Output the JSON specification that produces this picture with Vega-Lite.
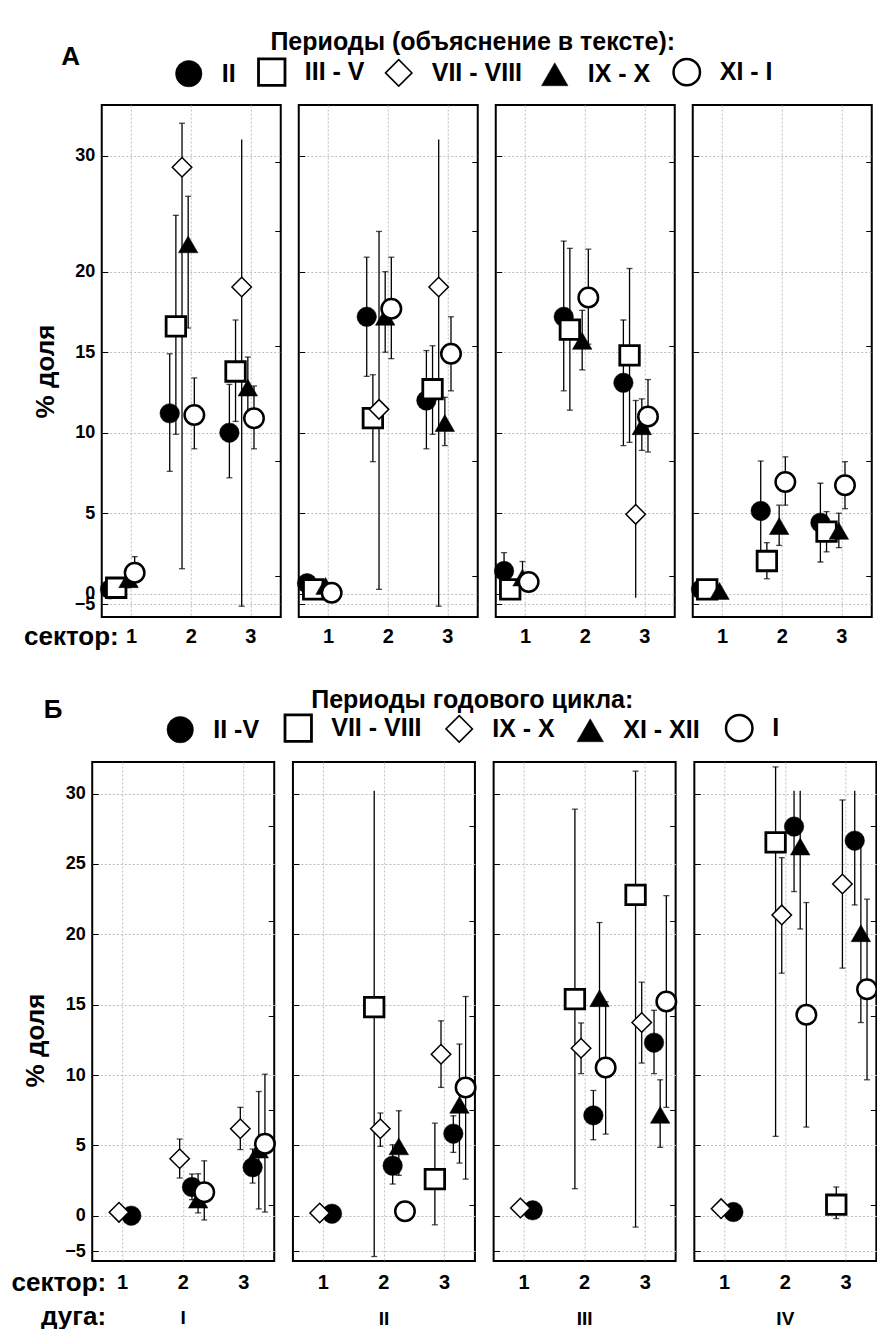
{
"$schema": "https://vega.github.io/schema/vega-lite/v6.json",
"background": "white",
"padding": {"left": 9, "top": 30, "right": 0, "bottom": 0},
"config": {
  "view": {"stroke": "black", "strokeWidth": 2},
  "font": "Liberation Sans",
  "axis": {"labelFont": "Liberation Sans", "labelFontWeight": "bold", "labelColor": "black", "titleFont": "Liberation Sans", "titleColor": "black", "titleFontWeight": "bold", "gridColor": "#bdbdbd", "gridDash": [2, 2], "gridWidth": 1, "domain": false, "tickColor": "black", "labelOverlap": false, "labelFlush": false, "labelBound": false},
  "legend": {"titleFont": "Liberation Sans", "titleFontSize": 25, "titleFontWeight": "bold", "titleColor": "black", "labelFont": "Liberation Sans", "labelFontSize": 25, "labelFontWeight": "bold", "labelColor": "black", "titleLimit": 2000, "labelLimit": 1000, "padding": 0, "symbolSize": 700},
  "title": {"font": "Liberation Sans", "fontWeight": "bold", "color": "black"}
},
"datasets": {
  "a": [
    {"arc":"I","sector":1,"period":"II","value":0.27},
    {"arc":"I","sector":1,"period":"III - V","value":0.37},
    {"arc":"I","sector":1,"period":"IX - X","value":0.9,"lo":0.37,"hi":1.5},
    {"arc":"I","sector":1,"period":"XI - I","value":1.3,"lo":0.48,"hi":2.3},
    {"arc":"I","sector":2,"period":"II","value":11.2,"lo":7.6,"hi":14.9},
    {"arc":"I","sector":2,"period":"III - V","value":16.6,"lo":9.9,"hi":23.5},
    {"arc":"I","sector":2,"period":"VII - VIII","value":29.3,"lo":1.55,"hi":31.93},
    {"arc":"I","sector":2,"period":"IX - X","value":21.7,"lo":16.5,"hi":27.5},
    {"arc":"I","sector":2,"period":"XI - I","value":11.1,"lo":9.0,"hi":13.4},
    {"arc":"I","sector":3,"period":"II","value":10.0,"lo":7.2,"hi":13.0},
    {"arc":"I","sector":3,"period":"III - V","value":13.8,"lo":10.7,"hi":17.0},
    {"arc":"I","sector":3,"period":"VII - VIII","value":19.05,"lo":-5.15,"hi":31.0},
    {"arc":"I","sector":3,"period":"IX - X","value":12.8,"lo":10.9,"hi":14.7},
    {"arc":"I","sector":3,"period":"XI - I","value":10.9,"lo":9.0,"hi":12.9},
    {"arc":"II","sector":1,"period":"II","value":0.65},
    {"arc":"II","sector":1,"period":"III - V","value":0.27},
    {"arc":"II","sector":1,"period":"IX - X","value":0.48},
    {"arc":"II","sector":1,"period":"XI - I","value":0.06},
    {"arc":"II","sector":2,"period":"II","value":17.2,"lo":13.5,"hi":20.9},
    {"arc":"II","sector":2,"period":"III - V","value":10.9,"lo":8.2,"hi":13.6},
    {"arc":"II","sector":2,"period":"VII - VIII","value":11.45,"lo":0.27,"hi":22.5},
    {"arc":"II","sector":2,"period":"IX - X","value":17.2,"lo":15.0,"hi":20.0},
    {"arc":"II","sector":2,"period":"XI - I","value":17.7,"lo":14.6,"hi":20.9},
    {"arc":"II","sector":3,"period":"II","value":12.0,"lo":9.0,"hi":15.1},
    {"arc":"II","sector":3,"period":"III - V","value":12.7,"lo":9.9,"hi":15.4},
    {"arc":"II","sector":3,"period":"VII - VIII","value":19.05,"lo":-5.15,"hi":31.0},
    {"arc":"II","sector":3,"period":"IX - X","value":10.6,"lo":9.2,"hi":12.2},
    {"arc":"II","sector":3,"period":"XI - I","value":14.9,"lo":12.6,"hi":17.2},
    {"arc":"III","sector":1,"period":"II","value":1.41,"lo":0.3,"hi":2.55},
    {"arc":"III","sector":1,"period":"III - V","value":0.27},
    {"arc":"III","sector":1,"period":"IX - X","value":1.0,"lo":0.37,"hi":2.0},
    {"arc":"III","sector":1,"period":"XI - I","value":0.73},
    {"arc":"III","sector":2,"period":"II","value":17.2,"lo":12.6,"hi":21.9},
    {"arc":"III","sector":2,"period":"III - V","value":16.4,"lo":11.4,"hi":21.45},
    {"arc":"III","sector":2,"period":"IX - X","value":15.7,"lo":13.9,"hi":17.6},
    {"arc":"III","sector":2,"period":"XI - I","value":18.4,"lo":15.5,"hi":21.4},
    {"arc":"III","sector":3,"period":"II","value":13.1,"lo":9.2,"hi":17.0},
    {"arc":"III","sector":3,"period":"III - V","value":14.8,"lo":9.4,"hi":20.2},
    {"arc":"III","sector":3,"period":"VII - VIII","value":4.93,"lo":-1.9,"hi":12.0},
    {"arc":"III","sector":3,"period":"IX - X","value":10.4,"lo":8.9,"hi":12.1},
    {"arc":"III","sector":3,"period":"XI - I","value":11.0,"lo":8.8,"hi":13.3},
    {"arc":"IV","sector":1,"period":"II","value":0.27},
    {"arc":"IV","sector":1,"period":"III - V","value":0.27},
    {"arc":"IV","sector":1,"period":"IX - X","value":0.17},
    {"arc":"IV","sector":2,"period":"II","value":5.14,"lo":2.0,"hi":8.24},
    {"arc":"IV","sector":2,"period":"III - V","value":2.03,"lo":0.93,"hi":3.17},
    {"arc":"IV","sector":2,"period":"IX - X","value":4.2,"lo":3.0,"hi":5.5},
    {"arc":"IV","sector":2,"period":"XI - I","value":6.94,"lo":5.5,"hi":8.5},
    {"arc":"IV","sector":3,"period":"II","value":4.41,"lo":1.97,"hi":6.86},
    {"arc":"IV","sector":3,"period":"III - V","value":3.85,"lo":2.6,"hi":5.1},
    {"arc":"IV","sector":3,"period":"IX - X","value":3.9,"lo":2.86,"hi":5.0},
    {"arc":"IV","sector":3,"period":"XI - I","value":6.73,"lo":5.28,"hi":8.2}
  ],
  "b": [
    {"arc":"I","sector":1,"period":"II -V","value":0.0},
    {"arc":"I","sector":1,"period":"IX - X","value":0.24},
    {"arc":"I","sector":2,"period":"II -V","value":2.04,"lo":1.14,"hi":2.96},
    {"arc":"I","sector":2,"period":"IX - X","value":4.05,"lo":2.68,"hi":5.45},
    {"arc":"I","sector":2,"period":"XI - XII","value":1.14,"lo":0.2,"hi":2.98},
    {"arc":"I","sector":2,"period":"I","value":1.66,"lo":-0.6,"hi":3.9},
    {"arc":"I","sector":3,"period":"II -V","value":3.44,"lo":2.32,"hi":4.74},
    {"arc":"I","sector":3,"period":"IX - X","value":6.18,"lo":4.7,"hi":7.7},
    {"arc":"I","sector":3,"period":"XI - XII","value":4.7,"lo":0.48,"hi":8.83},
    {"arc":"I","sector":3,"period":"I","value":5.11,"lo":0.26,"hi":10.06},
    {"arc":"II","sector":1,"period":"II -V","value":0.14},
    {"arc":"II","sector":1,"period":"IX - X","value":0.19},
    {"arc":"II","sector":2,"period":"II -V","value":3.55,"lo":2.25,"hi":5.04},
    {"arc":"II","sector":2,"period":"VII - VIII","value":14.82,"lo":-5.7,"hi":30.2},
    {"arc":"II","sector":2,"period":"IX - X","value":6.18,"lo":4.93,"hi":7.3},
    {"arc":"II","sector":2,"period":"XI - XII","value":4.93,"lo":2.87,"hi":7.46},
    {"arc":"II","sector":2,"period":"I","value":0.31},
    {"arc":"II","sector":3,"period":"II -V","value":5.83,"lo":4.5,"hi":7.1},
    {"arc":"II","sector":3,"period":"VII - VIII","value":2.6,"lo":-1.28,"hi":6.58},
    {"arc":"II","sector":3,"period":"IX - X","value":11.48,"lo":9.12,"hi":13.85},
    {"arc":"II","sector":3,"period":"XI - XII","value":7.88,"lo":3.74,"hi":12.2},
    {"arc":"II","sector":3,"period":"I","value":9.12,"lo":2.6,"hi":15.58},
    {"arc":"III","sector":1,"period":"II -V","value":0.38},
    {"arc":"III","sector":1,"period":"IX - X","value":0.55},
    {"arc":"III","sector":2,"period":"II -V","value":7.13,"lo":5.4,"hi":8.9},
    {"arc":"III","sector":2,"period":"VII - VIII","value":15.4,"lo":1.92,"hi":28.9},
    {"arc":"III","sector":2,"period":"IX - X","value":11.9,"lo":10.1,"hi":13.7},
    {"arc":"III","sector":2,"period":"XI - XII","value":15.46,"lo":10.1,"hi":20.84},
    {"arc":"III","sector":2,"period":"I","value":10.54,"lo":5.8,"hi":15.2},
    {"arc":"III","sector":3,"period":"II -V","value":12.3,"lo":10.1,"hi":14.6},
    {"arc":"III","sector":3,"period":"VII - VIII","value":22.8,"lo":-1.6,"hi":31.6},
    {"arc":"III","sector":3,"period":"IX - X","value":13.73,"lo":10.85,"hi":16.6},
    {"arc":"III","sector":3,"period":"XI - XII","value":7.17,"lo":4.86,"hi":9.66},
    {"arc":"III","sector":3,"period":"I","value":15.23,"lo":7.7,"hi":22.75},
    {"arc":"IV","sector":1,"period":"II -V","value":0.26},
    {"arc":"IV","sector":1,"period":"IX - X","value":0.5},
    {"arc":"IV","sector":2,"period":"II -V","value":27.66,"lo":23.04,"hi":30.2},
    {"arc":"IV","sector":2,"period":"VII - VIII","value":26.54,"lo":5.64,"hi":31.9},
    {"arc":"IV","sector":2,"period":"IX - X","value":21.38,"lo":17.24,"hi":25.45},
    {"arc":"IV","sector":2,"period":"XI - XII","value":26.24,"lo":20.38,"hi":30.2},
    {"arc":"IV","sector":2,"period":"I","value":14.28,"lo":6.3,"hi":22.26},
    {"arc":"IV","sector":3,"period":"II -V","value":26.66,"lo":22.09,"hi":30.2},
    {"arc":"IV","sector":3,"period":"VII - VIII","value":0.78,"lo":-0.4,"hi":2.04},
    {"arc":"IV","sector":3,"period":"IX - X","value":23.58,"lo":17.6,"hi":29.55},
    {"arc":"IV","sector":3,"period":"XI - XII","value":20.08,"lo":13.73,"hi":26.9},
    {"arc":"IV","sector":3,"period":"I","value":16.1,"lo":9.66,"hi":22.5}
  ]
},
"vconcat": [
  {
    "title": {"text": "А", "anchor": "start", "frame": "group", "fontSize": 26, "baseline": "alphabetic", "offset": 0, "dy": 61, "dx": -40.5},
    "bounds": "flush",
    "spacing": 18,
    "resolve": {"scale": {"shape": "shared", "fill": "shared", "stroke": "shared", "strokeWidth": "shared"}},
    "hconcat": [
      {
        "width": 179, "height": 512,
        "data": {"name": "a"},
        "transform": [{"filter": "datum.arc == 'I'"}],
        "encoding": {
          "x": {"field": "sector", "type": "ordinal", "scale": {"domain": [1, 2, 3], "paddingInner": 0, "paddingOuter": 0},
                "axis": {"title": "сектор:", "titleFontSize": 26, "titleAngle": 0, "titleAlign": "right", "titleBaseline": "middle", "titleX": 16.5, "titleY": 19, "labelFontSize": 20, "labelAngle": 0, "labelBaseline": "middle", "labelPadding": 19, "ticks": false, "tickSize": 0, "grid": true, "bandPosition": 0.5}},
          "xOffset": {"field": "period", "type": "nominal", "scale": {"domain": ["II","III - V","VII - VIII","IX - X","XI - I"], "paddingInner": 0, "paddingOuter": 0.85}}
        },
        "resolve": {"axis": {"y": "independent"}},
        "layer": [
          {"mark": {"type": "rule", "color": "black", "strokeWidth": 1.3},
           "encoding": {"y": {"field": "lo", "type": "quantitative", "title": "% доля",
              "scale": {"domain": [-6, -5, 0, 24.08, 27.27, 30.93, 31.2, 33.06], "range": [512, 499.3, 488.7, 101, 95, 36, 30, 0], "nice": false, "zero": false},
              "axis": {"values": [-5, 0, 5, 10, 15, 20, 30], "labelFontSize": 18, "labelPadding": 13, "tickSize": -6, "grid": true, "titleFontSize": 26, "titleAngle": -90, "titleAlign": "center", "titleBaseline": "middle", "titleX": -56.5, "titleY": 266}},
             "y2": {"field": "hi"}}},
          {"transform": [{"filter": "isValid(datum.lo) && (datum.lo <= -4.9 || datum.lo >= -0.3)"}],
           "mark": {"type": "tick", "color": "black", "size": 6, "thickness": 1.3},
           "encoding": {"y": {"field": "lo", "type": "quantitative", "axis": null}}},
          {"transform": [{"filter": "isValid(datum.hi) && (datum.hi <= 30.93 || datum.hi >= 31.2)"}],
           "mark": {"type": "tick", "color": "black", "size": 6, "thickness": 1.3},
           "encoding": {"y": {"field": "hi", "type": "quantitative", "axis": null}}},
          {"mark": {"type": "point", "filled": true, "size": 380, "opacity": 1},
           "encoding": {
             "y": {"field": "value", "type": "quantitative", "axis": {"orient": "right", "values": [1.1, 8.24, 15.38, 22.52, 29.6], "labels": false, "grid": false, "tickSize": -6, "title": null}},
             "shape": {"field": "period", "type": "nominal", "scale": {"domain": ["II","III - V","VII - VIII","IX - X","XI - I"], "range": ["circle","square","diamond","triangle-up","circle"]},
                       "legend": {"title": "Периоды (объяснение в тексте):\u00a0\u00a0\u00a0\u00a0\u00a0\u00a0", "orient": "none", "legendX": 72, "legendY": -75, "direction": "horizontal", "columns": 5, "titleAnchor": "middle", "titlePadding": 2, "columnPadding": 17, "labelOffset": 18}},
             "fill": {"field": "period", "type": "nominal", "scale": {"domain": ["II","III - V","VII - VIII","IX - X","XI - I"], "range": ["black","white","white","black","white"]},
                       "legend": {"title": "Периоды (объяснение в тексте):\u00a0\u00a0\u00a0\u00a0\u00a0\u00a0", "orient": "none", "legendX": 72, "legendY": -75, "direction": "horizontal", "columns": 5, "titleAnchor": "middle", "titlePadding": 2, "columnPadding": 17, "labelOffset": 18}},
             "stroke": {"field": "period", "type": "nominal", "scale": {"domain": ["II","III - V","VII - VIII","IX - X","XI - I"], "range": ["black","black","black","black","black"]},
                       "legend": {"title": "Периоды (объяснение в тексте):\u00a0\u00a0\u00a0\u00a0\u00a0\u00a0", "orient": "none", "legendX": 72, "legendY": -75, "direction": "horizontal", "columns": 5, "titleAnchor": "middle", "titlePadding": 2, "columnPadding": 17, "labelOffset": 18}},
             "strokeWidth": {"field": "period", "type": "nominal", "scale": {"type": "ordinal", "domain": ["II","III - V","VII - VIII","IX - X","XI - I"], "range": [0.5, 2.8, 1.5, 0.5, 2.5]},
                       "legend": {"title": "Периоды (объяснение в тексте):\u00a0\u00a0\u00a0\u00a0\u00a0\u00a0", "orient": "none", "legendX": 72, "legendY": -75, "direction": "horizontal", "columns": 5, "titleAnchor": "middle", "titlePadding": 2, "columnPadding": 17, "labelOffset": 18}}
           }}
        ]
      },
      {
        "width": 179, "height": 512,
        "data": {"name": "a"},
        "transform": [{"filter": "datum.arc == 'II'"}],
        "encoding": {
          "x": {"field": "sector", "type": "ordinal", "scale": {"domain": [1, 2, 3], "paddingInner": 0, "paddingOuter": 0},
                "axis": {"title": null, "labelFontSize": 20, "labelAngle": 0, "labelBaseline": "middle", "labelPadding": 19, "ticks": false, "tickSize": 0, "grid": true, "bandPosition": 0.5}},
          "xOffset": {"field": "period", "type": "nominal", "scale": {"domain": ["II","III - V","VII - VIII","IX - X","XI - I"], "paddingInner": 0, "paddingOuter": 0.85}}
        },
        "resolve": {"axis": {"y": "independent"}},
        "layer": [
          {"mark": {"type": "rule", "color": "black", "strokeWidth": 1.3},
           "encoding": {"y": {"field": "lo", "type": "quantitative", "title": null,
              "scale": {"domain": [-6, -5, 0, 24.08, 27.27, 30.93, 31.2, 33.06], "range": [512, 499.3, 488.7, 101, 95, 36, 30, 0], "nice": false, "zero": false},
              "axis": {"values": [-5, 0, 5, 10, 15, 20, 30], "labels": false, "tickSize": -6, "grid": true, "title": null}},
             "y2": {"field": "hi"}}},
          {"transform": [{"filter": "isValid(datum.lo) && (datum.lo <= -4.9 || datum.lo >= -0.3)"}],
           "mark": {"type": "tick", "color": "black", "size": 6, "thickness": 1.3},
           "encoding": {"y": {"field": "lo", "type": "quantitative", "axis": null}}},
          {"transform": [{"filter": "isValid(datum.hi) && (datum.hi <= 30.93 || datum.hi >= 31.2)"}],
           "mark": {"type": "tick", "color": "black", "size": 6, "thickness": 1.3},
           "encoding": {"y": {"field": "hi", "type": "quantitative", "axis": null}}},
          {"mark": {"type": "point", "filled": true, "size": 380, "opacity": 1},
           "encoding": {
             "y": {"field": "value", "type": "quantitative", "axis": {"orient": "right", "values": [1.1, 8.24, 15.38, 22.52, 29.6], "labels": false, "grid": false, "tickSize": -6, "title": null}},
             "shape": {"field": "period", "type": "nominal", "scale": {"domain": ["II","III - V","VII - VIII","IX - X","XI - I"], "range": ["circle","square","diamond","triangle-up","circle"]},
                       "legend": {"title": "Периоды (объяснение в тексте):\u00a0\u00a0\u00a0\u00a0\u00a0\u00a0", "orient": "none", "legendX": 72, "legendY": -75, "direction": "horizontal", "columns": 5, "titleAnchor": "middle", "titlePadding": 2, "columnPadding": 17, "labelOffset": 18}},
             "fill": {"field": "period", "type": "nominal", "scale": {"domain": ["II","III - V","VII - VIII","IX - X","XI - I"], "range": ["black","white","white","black","white"]},
                       "legend": {"title": "Периоды (объяснение в тексте):\u00a0\u00a0\u00a0\u00a0\u00a0\u00a0", "orient": "none", "legendX": 72, "legendY": -75, "direction": "horizontal", "columns": 5, "titleAnchor": "middle", "titlePadding": 2, "columnPadding": 17, "labelOffset": 18}},
             "stroke": {"field": "period", "type": "nominal", "scale": {"domain": ["II","III - V","VII - VIII","IX - X","XI - I"], "range": ["black","black","black","black","black"]},
                       "legend": {"title": "Периоды (объяснение в тексте):\u00a0\u00a0\u00a0\u00a0\u00a0\u00a0", "orient": "none", "legendX": 72, "legendY": -75, "direction": "horizontal", "columns": 5, "titleAnchor": "middle", "titlePadding": 2, "columnPadding": 17, "labelOffset": 18}},
             "strokeWidth": {"field": "period", "type": "nominal", "scale": {"type": "ordinal", "domain": ["II","III - V","VII - VIII","IX - X","XI - I"], "range": [0.5, 2.8, 1.5, 0.5, 2.5]},
                       "legend": {"title": "Периоды (объяснение в тексте):\u00a0\u00a0\u00a0\u00a0\u00a0\u00a0", "orient": "none", "legendX": 72, "legendY": -75, "direction": "horizontal", "columns": 5, "titleAnchor": "middle", "titlePadding": 2, "columnPadding": 17, "labelOffset": 18}}
           }}
        ]
      },
      {
        "width": 179, "height": 512,
        "data": {"name": "a"},
        "transform": [{"filter": "datum.arc == 'III'"}],
        "encoding": {
          "x": {"field": "sector", "type": "ordinal", "scale": {"domain": [1, 2, 3], "paddingInner": 0, "paddingOuter": 0},
                "axis": {"title": null, "labelFontSize": 20, "labelAngle": 0, "labelBaseline": "middle", "labelPadding": 19, "ticks": false, "tickSize": 0, "grid": true, "bandPosition": 0.5}},
          "xOffset": {"field": "period", "type": "nominal", "scale": {"domain": ["II","III - V","VII - VIII","IX - X","XI - I"], "paddingInner": 0, "paddingOuter": 0.85}}
        },
        "resolve": {"axis": {"y": "independent"}},
        "layer": [
          {"mark": {"type": "rule", "color": "black", "strokeWidth": 1.3},
           "encoding": {"y": {"field": "lo", "type": "quantitative", "title": null,
              "scale": {"domain": [-6, -5, 0, 24.08, 27.27, 30.93, 31.2, 33.06], "range": [512, 499.3, 488.7, 101, 95, 36, 30, 0], "nice": false, "zero": false},
              "axis": {"values": [-5, 0, 5, 10, 15, 20, 30], "labels": false, "tickSize": -6, "grid": true, "title": null}},
             "y2": {"field": "hi"}}},
          {"transform": [{"filter": "isValid(datum.lo) && (datum.lo <= -4.9 || datum.lo >= -0.3)"}],
           "mark": {"type": "tick", "color": "black", "size": 6, "thickness": 1.3},
           "encoding": {"y": {"field": "lo", "type": "quantitative", "axis": null}}},
          {"transform": [{"filter": "isValid(datum.hi) && (datum.hi <= 30.93 || datum.hi >= 31.2)"}],
           "mark": {"type": "tick", "color": "black", "size": 6, "thickness": 1.3},
           "encoding": {"y": {"field": "hi", "type": "quantitative", "axis": null}}},
          {"mark": {"type": "point", "filled": true, "size": 380, "opacity": 1},
           "encoding": {
             "y": {"field": "value", "type": "quantitative", "axis": {"orient": "right", "values": [1.1, 8.24, 15.38, 22.52, 29.6], "labels": false, "grid": false, "tickSize": -6, "title": null}},
             "shape": {"field": "period", "type": "nominal", "scale": {"domain": ["II","III - V","VII - VIII","IX - X","XI - I"], "range": ["circle","square","diamond","triangle-up","circle"]},
                       "legend": {"title": "Периоды (объяснение в тексте):\u00a0\u00a0\u00a0\u00a0\u00a0\u00a0", "orient": "none", "legendX": 72, "legendY": -75, "direction": "horizontal", "columns": 5, "titleAnchor": "middle", "titlePadding": 2, "columnPadding": 17, "labelOffset": 18}},
             "fill": {"field": "period", "type": "nominal", "scale": {"domain": ["II","III - V","VII - VIII","IX - X","XI - I"], "range": ["black","white","white","black","white"]},
                       "legend": {"title": "Периоды (объяснение в тексте):\u00a0\u00a0\u00a0\u00a0\u00a0\u00a0", "orient": "none", "legendX": 72, "legendY": -75, "direction": "horizontal", "columns": 5, "titleAnchor": "middle", "titlePadding": 2, "columnPadding": 17, "labelOffset": 18}},
             "stroke": {"field": "period", "type": "nominal", "scale": {"domain": ["II","III - V","VII - VIII","IX - X","XI - I"], "range": ["black","black","black","black","black"]},
                       "legend": {"title": "Периоды (объяснение в тексте):\u00a0\u00a0\u00a0\u00a0\u00a0\u00a0", "orient": "none", "legendX": 72, "legendY": -75, "direction": "horizontal", "columns": 5, "titleAnchor": "middle", "titlePadding": 2, "columnPadding": 17, "labelOffset": 18}},
             "strokeWidth": {"field": "period", "type": "nominal", "scale": {"type": "ordinal", "domain": ["II","III - V","VII - VIII","IX - X","XI - I"], "range": [0.5, 2.8, 1.5, 0.5, 2.5]},
                       "legend": {"title": "Периоды (объяснение в тексте):\u00a0\u00a0\u00a0\u00a0\u00a0\u00a0", "orient": "none", "legendX": 72, "legendY": -75, "direction": "horizontal", "columns": 5, "titleAnchor": "middle", "titlePadding": 2, "columnPadding": 17, "labelOffset": 18}}
           }}
        ]
      },
      {
        "width": 179, "height": 512,
        "data": {"name": "a"},
        "transform": [{"filter": "datum.arc == 'IV'"}],
        "encoding": {
          "x": {"field": "sector", "type": "ordinal", "scale": {"domain": [1, 2, 3], "paddingInner": 0, "paddingOuter": 0},
                "axis": {"title": null, "labelFontSize": 20, "labelAngle": 0, "labelBaseline": "middle", "labelPadding": 19, "ticks": false, "tickSize": 0, "grid": true, "bandPosition": 0.5}},
          "xOffset": {"field": "period", "type": "nominal", "scale": {"domain": ["II","III - V","VII - VIII","IX - X","XI - I"], "paddingInner": 0, "paddingOuter": 0.85}}
        },
        "resolve": {"axis": {"y": "independent"}},
        "layer": [
          {"mark": {"type": "rule", "color": "black", "strokeWidth": 1.3},
           "encoding": {"y": {"field": "lo", "type": "quantitative", "title": null,
              "scale": {"domain": [-6, -5, 0, 24.08, 27.27, 30.93, 31.2, 33.06], "range": [512, 499.3, 488.7, 101, 95, 36, 30, 0], "nice": false, "zero": false},
              "axis": {"values": [-5, 0, 5, 10, 15, 20, 30], "labels": false, "tickSize": -6, "grid": true, "title": null}},
             "y2": {"field": "hi"}}},
          {"transform": [{"filter": "isValid(datum.lo) && (datum.lo <= -4.9 || datum.lo >= -0.3)"}],
           "mark": {"type": "tick", "color": "black", "size": 6, "thickness": 1.3},
           "encoding": {"y": {"field": "lo", "type": "quantitative", "axis": null}}},
          {"transform": [{"filter": "isValid(datum.hi) && (datum.hi <= 30.93 || datum.hi >= 31.2)"}],
           "mark": {"type": "tick", "color": "black", "size": 6, "thickness": 1.3},
           "encoding": {"y": {"field": "hi", "type": "quantitative", "axis": null}}},
          {"mark": {"type": "point", "filled": true, "size": 380, "opacity": 1},
           "encoding": {
             "y": {"field": "value", "type": "quantitative", "axis": {"orient": "right", "values": [1.1, 8.24, 15.38, 22.52, 29.6], "labels": false, "grid": false, "tickSize": -6, "title": null}},
             "shape": {"field": "period", "type": "nominal", "scale": {"domain": ["II","III - V","VII - VIII","IX - X","XI - I"], "range": ["circle","square","diamond","triangle-up","circle"]},
                       "legend": {"title": "Периоды (объяснение в тексте):\u00a0\u00a0\u00a0\u00a0\u00a0\u00a0", "orient": "none", "legendX": 72, "legendY": -75, "direction": "horizontal", "columns": 5, "titleAnchor": "middle", "titlePadding": 2, "columnPadding": 17, "labelOffset": 18}},
             "fill": {"field": "period", "type": "nominal", "scale": {"domain": ["II","III - V","VII - VIII","IX - X","XI - I"], "range": ["black","white","white","black","white"]},
                       "legend": {"title": "Периоды (объяснение в тексте):\u00a0\u00a0\u00a0\u00a0\u00a0\u00a0", "orient": "none", "legendX": 72, "legendY": -75, "direction": "horizontal", "columns": 5, "titleAnchor": "middle", "titlePadding": 2, "columnPadding": 17, "labelOffset": 18}},
             "stroke": {"field": "period", "type": "nominal", "scale": {"domain": ["II","III - V","VII - VIII","IX - X","XI - I"], "range": ["black","black","black","black","black"]},
                       "legend": {"title": "Периоды (объяснение в тексте):\u00a0\u00a0\u00a0\u00a0\u00a0\u00a0", "orient": "none", "legendX": 72, "legendY": -75, "direction": "horizontal", "columns": 5, "titleAnchor": "middle", "titlePadding": 2, "columnPadding": 17, "labelOffset": 18}},
             "strokeWidth": {"field": "period", "type": "nominal", "scale": {"type": "ordinal", "domain": ["II","III - V","VII - VIII","IX - X","XI - I"], "range": [0.5, 2.8, 1.5, 0.5, 2.5]},
                       "legend": {"title": "Периоды (объяснение в тексте):\u00a0\u00a0\u00a0\u00a0\u00a0\u00a0", "orient": "none", "legendX": 72, "legendY": -75, "direction": "horizontal", "columns": 5, "titleAnchor": "middle", "titlePadding": 2, "columnPadding": 17, "labelOffset": 18}}
           }}
        ]
      }
    ]
  },
  {
    "title": {"text": "Б", "anchor": "start", "frame": "group", "fontSize": 26, "baseline": "alphabetic", "offset": 0, "dy": 56, "dx": -48.5},
    "bounds": "flush",
    "spacing": 18.7,
    "resolve": {"scale": {"shape": "shared", "fill": "shared", "stroke": "shared", "strokeWidth": "shared"}},
    "hconcat": [
      {
        "width": 182, "height": 499,
        "title": {"text": "I", "orient": "bottom", "frame": "group", "anchor": "middle", "fontSize": 19, "baseline": "middle", "offset": -11},
        "data": {"name": "b"},
        "transform": [{"filter": "datum.arc == 'I'"}],
        "encoding": {
          "x": {"field": "sector", "type": "ordinal", "scale": {"domain": [1, 2, 3], "paddingInner": 0, "paddingOuter": 0},
                "axis": {"title": ["сектор:", "дуга:"], "titleFontSize": 26, "titleLineHeight": 34, "titleAngle": 0, "titleAlign": "right", "titleBaseline": "middle", "titleX": 13.5, "titleY": 21.3, "labelFontSize": 20, "labelAngle": 0, "labelBaseline": "middle", "labelPadding": 21, "ticks": false, "tickSize": 0, "grid": true, "bandPosition": 0.5}},
          "xOffset": {"field": "period", "type": "nominal", "scale": {"domain": ["II -V","VII - VIII","IX - X","XI - XII","I"], "paddingInner": 0, "paddingOuter": 0.85}}
        },
        "resolve": {"axis": {"y": "independent"}},
        "layer": [
          {"mark": {"type": "rule", "color": "black", "strokeWidth": 1.3},
           "encoding": {"y": {"field": "lo", "type": "quantitative", "title": "% доля",
              "scale": {"domain": [-6.3, -5, 0, 32.25], "range": [499, 489.3, 453.7, 0], "nice": false, "zero": false},
              "axis": {"values": [-5, 0, 5, 10, 15, 20, 25, 30], "labelFontSize": 18, "labelPadding": 13, "tickSize": -6, "grid": true, "titleFontSize": 26, "titleAngle": -90, "titleAlign": "center", "titleBaseline": "middle", "titleX": -56.5, "titleY": 278}},
             "y2": {"field": "hi"}}},
          {"transform": [{"filter": "isValid(datum.lo)"}],
           "mark": {"type": "tick", "color": "black", "size": 6, "thickness": 1.3},
           "encoding": {"y": {"field": "lo", "type": "quantitative", "axis": null}}},
          {"transform": [{"filter": "isValid(datum.hi) && (datum.hi <= 30 || datum.hi >= 30.5)"}],
           "mark": {"type": "tick", "color": "black", "size": 6, "thickness": 1.3},
           "encoding": {"y": {"field": "hi", "type": "quantitative", "axis": null}}},
          {"mark": {"type": "point", "filled": true, "size": 380, "opacity": 1},
           "encoding": {
             "y": {"field": "value", "type": "quantitative", "axis": {"orient": "right", "values": [0.74, 7.49, 14.2, 20.98, 27.7], "labels": false, "grid": false, "tickSize": -6, "title": null}},
             "shape": {"field": "period", "type": "nominal", "scale": {"domain": ["II -V","VII - VIII","IX - X","XI - XII","I"], "range": ["circle","square","diamond","triangle-up","circle"]},
                       "legend": {"title": "Периоды годового цикла:\u00a0\u00a0\u00a0\u00a0\u00a0\u00a0", "orient": "none", "legendX": 73, "legendY": -74, "direction": "horizontal", "columns": 5, "titleAnchor": "middle", "titlePadding": 0, "columnPadding": 20, "labelOffset": 18}},
             "fill": {"field": "period", "type": "nominal", "scale": {"domain": ["II -V","VII - VIII","IX - X","XI - XII","I"], "range": ["black","white","white","black","white"]},
                       "legend": {"title": "Периоды годового цикла:\u00a0\u00a0\u00a0\u00a0\u00a0\u00a0", "orient": "none", "legendX": 73, "legendY": -74, "direction": "horizontal", "columns": 5, "titleAnchor": "middle", "titlePadding": 0, "columnPadding": 20, "labelOffset": 18}},
             "stroke": {"field": "period", "type": "nominal", "scale": {"domain": ["II -V","VII - VIII","IX - X","XI - XII","I"], "range": ["black","black","black","black","black"]},
                       "legend": {"title": "Периоды годового цикла:\u00a0\u00a0\u00a0\u00a0\u00a0\u00a0", "orient": "none", "legendX": 73, "legendY": -74, "direction": "horizontal", "columns": 5, "titleAnchor": "middle", "titlePadding": 0, "columnPadding": 20, "labelOffset": 18}},
             "strokeWidth": {"field": "period", "type": "nominal", "scale": {"type": "ordinal", "domain": ["II -V","VII - VIII","IX - X","XI - XII","I"], "range": [0.5, 2.8, 1.5, 0.5, 2.5]},
                       "legend": {"title": "Периоды годового цикла:\u00a0\u00a0\u00a0\u00a0\u00a0\u00a0", "orient": "none", "legendX": 73, "legendY": -74, "direction": "horizontal", "columns": 5, "titleAnchor": "middle", "titlePadding": 0, "columnPadding": 20, "labelOffset": 18}}
           }}
        ]
      },
      {
        "width": 182, "height": 499,
        "title": {"text": "II", "orient": "bottom", "frame": "group", "anchor": "middle", "fontSize": 19, "baseline": "middle", "offset": 27},
        "data": {"name": "b"},
        "transform": [{"filter": "datum.arc == 'II'"}],
        "encoding": {
          "x": {"field": "sector", "type": "ordinal", "scale": {"domain": [1, 2, 3], "paddingInner": 0, "paddingOuter": 0},
                "axis": {"title": null, "labelFontSize": 20, "labelAngle": 0, "labelBaseline": "middle", "labelPadding": 21, "ticks": false, "tickSize": 0, "grid": true, "bandPosition": 0.5}},
          "xOffset": {"field": "period", "type": "nominal", "scale": {"domain": ["II -V","VII - VIII","IX - X","XI - XII","I"], "paddingInner": 0, "paddingOuter": 0.85}}
        },
        "resolve": {"axis": {"y": "independent"}},
        "layer": [
          {"mark": {"type": "rule", "color": "black", "strokeWidth": 1.3},
           "encoding": {"y": {"field": "lo", "type": "quantitative", "title": null,
              "scale": {"domain": [-6.3, -5, 0, 32.25], "range": [499, 489.3, 453.7, 0], "nice": false, "zero": false},
              "axis": {"values": [-5, 0, 5, 10, 15, 20, 25, 30], "labels": false, "tickSize": -6, "grid": true, "title": null}},
             "y2": {"field": "hi"}}},
          {"transform": [{"filter": "isValid(datum.lo)"}],
           "mark": {"type": "tick", "color": "black", "size": 6, "thickness": 1.3},
           "encoding": {"y": {"field": "lo", "type": "quantitative", "axis": null}}},
          {"transform": [{"filter": "isValid(datum.hi) && (datum.hi <= 30 || datum.hi >= 30.5)"}],
           "mark": {"type": "tick", "color": "black", "size": 6, "thickness": 1.3},
           "encoding": {"y": {"field": "hi", "type": "quantitative", "axis": null}}},
          {"mark": {"type": "point", "filled": true, "size": 380, "opacity": 1},
           "encoding": {
             "y": {"field": "value", "type": "quantitative", "axis": {"orient": "right", "values": [0.74, 7.49, 14.2, 20.98, 27.7], "labels": false, "grid": false, "tickSize": -6, "title": null}},
             "shape": {"field": "period", "type": "nominal", "scale": {"domain": ["II -V","VII - VIII","IX - X","XI - XII","I"], "range": ["circle","square","diamond","triangle-up","circle"]},
                       "legend": {"title": "Периоды годового цикла:\u00a0\u00a0\u00a0\u00a0\u00a0\u00a0", "orient": "none", "legendX": 73, "legendY": -74, "direction": "horizontal", "columns": 5, "titleAnchor": "middle", "titlePadding": 0, "columnPadding": 20, "labelOffset": 18}},
             "fill": {"field": "period", "type": "nominal", "scale": {"domain": ["II -V","VII - VIII","IX - X","XI - XII","I"], "range": ["black","white","white","black","white"]},
                       "legend": {"title": "Периоды годового цикла:\u00a0\u00a0\u00a0\u00a0\u00a0\u00a0", "orient": "none", "legendX": 73, "legendY": -74, "direction": "horizontal", "columns": 5, "titleAnchor": "middle", "titlePadding": 0, "columnPadding": 20, "labelOffset": 18}},
             "stroke": {"field": "period", "type": "nominal", "scale": {"domain": ["II -V","VII - VIII","IX - X","XI - XII","I"], "range": ["black","black","black","black","black"]},
                       "legend": {"title": "Периоды годового цикла:\u00a0\u00a0\u00a0\u00a0\u00a0\u00a0", "orient": "none", "legendX": 73, "legendY": -74, "direction": "horizontal", "columns": 5, "titleAnchor": "middle", "titlePadding": 0, "columnPadding": 20, "labelOffset": 18}},
             "strokeWidth": {"field": "period", "type": "nominal", "scale": {"type": "ordinal", "domain": ["II -V","VII - VIII","IX - X","XI - XII","I"], "range": [0.5, 2.8, 1.5, 0.5, 2.5]},
                       "legend": {"title": "Периоды годового цикла:\u00a0\u00a0\u00a0\u00a0\u00a0\u00a0", "orient": "none", "legendX": 73, "legendY": -74, "direction": "horizontal", "columns": 5, "titleAnchor": "middle", "titlePadding": 0, "columnPadding": 20, "labelOffset": 18}}
           }}
        ]
      },
      {
        "width": 182, "height": 499,
        "title": {"text": "III", "orient": "bottom", "frame": "group", "anchor": "middle", "fontSize": 19, "baseline": "middle", "offset": 27},
        "data": {"name": "b"},
        "transform": [{"filter": "datum.arc == 'III'"}],
        "encoding": {
          "x": {"field": "sector", "type": "ordinal", "scale": {"domain": [1, 2, 3], "paddingInner": 0, "paddingOuter": 0},
                "axis": {"title": null, "labelFontSize": 20, "labelAngle": 0, "labelBaseline": "middle", "labelPadding": 21, "ticks": false, "tickSize": 0, "grid": true, "bandPosition": 0.5}},
          "xOffset": {"field": "period", "type": "nominal", "scale": {"domain": ["II -V","VII - VIII","IX - X","XI - XII","I"], "paddingInner": 0, "paddingOuter": 0.85}}
        },
        "resolve": {"axis": {"y": "independent"}},
        "layer": [
          {"mark": {"type": "rule", "color": "black", "strokeWidth": 1.3},
           "encoding": {"y": {"field": "lo", "type": "quantitative", "title": null,
              "scale": {"domain": [-6.3, -5, 0, 32.25], "range": [499, 489.3, 453.7, 0], "nice": false, "zero": false},
              "axis": {"values": [-5, 0, 5, 10, 15, 20, 25, 30], "labels": false, "tickSize": -6, "grid": true, "title": null}},
             "y2": {"field": "hi"}}},
          {"transform": [{"filter": "isValid(datum.lo)"}],
           "mark": {"type": "tick", "color": "black", "size": 6, "thickness": 1.3},
           "encoding": {"y": {"field": "lo", "type": "quantitative", "axis": null}}},
          {"transform": [{"filter": "isValid(datum.hi) && (datum.hi <= 30 || datum.hi >= 30.5)"}],
           "mark": {"type": "tick", "color": "black", "size": 6, "thickness": 1.3},
           "encoding": {"y": {"field": "hi", "type": "quantitative", "axis": null}}},
          {"mark": {"type": "point", "filled": true, "size": 380, "opacity": 1},
           "encoding": {
             "y": {"field": "value", "type": "quantitative", "axis": {"orient": "right", "values": [0.74, 7.49, 14.2, 20.98, 27.7], "labels": false, "grid": false, "tickSize": -6, "title": null}},
             "shape": {"field": "period", "type": "nominal", "scale": {"domain": ["II -V","VII - VIII","IX - X","XI - XII","I"], "range": ["circle","square","diamond","triangle-up","circle"]},
                       "legend": {"title": "Периоды годового цикла:\u00a0\u00a0\u00a0\u00a0\u00a0\u00a0", "orient": "none", "legendX": 73, "legendY": -74, "direction": "horizontal", "columns": 5, "titleAnchor": "middle", "titlePadding": 0, "columnPadding": 20, "labelOffset": 18}},
             "fill": {"field": "period", "type": "nominal", "scale": {"domain": ["II -V","VII - VIII","IX - X","XI - XII","I"], "range": ["black","white","white","black","white"]},
                       "legend": {"title": "Периоды годового цикла:\u00a0\u00a0\u00a0\u00a0\u00a0\u00a0", "orient": "none", "legendX": 73, "legendY": -74, "direction": "horizontal", "columns": 5, "titleAnchor": "middle", "titlePadding": 0, "columnPadding": 20, "labelOffset": 18}},
             "stroke": {"field": "period", "type": "nominal", "scale": {"domain": ["II -V","VII - VIII","IX - X","XI - XII","I"], "range": ["black","black","black","black","black"]},
                       "legend": {"title": "Периоды годового цикла:\u00a0\u00a0\u00a0\u00a0\u00a0\u00a0", "orient": "none", "legendX": 73, "legendY": -74, "direction": "horizontal", "columns": 5, "titleAnchor": "middle", "titlePadding": 0, "columnPadding": 20, "labelOffset": 18}},
             "strokeWidth": {"field": "period", "type": "nominal", "scale": {"type": "ordinal", "domain": ["II -V","VII - VIII","IX - X","XI - XII","I"], "range": [0.5, 2.8, 1.5, 0.5, 2.5]},
                       "legend": {"title": "Периоды годового цикла:\u00a0\u00a0\u00a0\u00a0\u00a0\u00a0", "orient": "none", "legendX": 73, "legendY": -74, "direction": "horizontal", "columns": 5, "titleAnchor": "middle", "titlePadding": 0, "columnPadding": 20, "labelOffset": 18}}
           }}
        ]
      },
      {
        "width": 182, "height": 499,
        "title": {"text": "IV", "orient": "bottom", "frame": "group", "anchor": "middle", "fontSize": 19, "baseline": "middle", "offset": 27},
        "data": {"name": "b"},
        "transform": [{"filter": "datum.arc == 'IV'"}],
        "encoding": {
          "x": {"field": "sector", "type": "ordinal", "scale": {"domain": [1, 2, 3], "paddingInner": 0, "paddingOuter": 0},
                "axis": {"title": null, "labelFontSize": 20, "labelAngle": 0, "labelBaseline": "middle", "labelPadding": 21, "ticks": false, "tickSize": 0, "grid": true, "bandPosition": 0.5}},
          "xOffset": {"field": "period", "type": "nominal", "scale": {"domain": ["II -V","VII - VIII","IX - X","XI - XII","I"], "paddingInner": 0, "paddingOuter": 0.85}}
        },
        "resolve": {"axis": {"y": "independent"}},
        "layer": [
          {"mark": {"type": "rule", "color": "black", "strokeWidth": 1.3},
           "encoding": {"y": {"field": "lo", "type": "quantitative", "title": null,
              "scale": {"domain": [-6.3, -5, 0, 32.25], "range": [499, 489.3, 453.7, 0], "nice": false, "zero": false},
              "axis": {"values": [-5, 0, 5, 10, 15, 20, 25, 30], "labels": false, "tickSize": -6, "grid": true, "title": null}},
             "y2": {"field": "hi"}}},
          {"transform": [{"filter": "isValid(datum.lo)"}],
           "mark": {"type": "tick", "color": "black", "size": 6, "thickness": 1.3},
           "encoding": {"y": {"field": "lo", "type": "quantitative", "axis": null}}},
          {"transform": [{"filter": "isValid(datum.hi) && (datum.hi <= 30 || datum.hi >= 30.5)"}],
           "mark": {"type": "tick", "color": "black", "size": 6, "thickness": 1.3},
           "encoding": {"y": {"field": "hi", "type": "quantitative", "axis": null}}},
          {"mark": {"type": "point", "filled": true, "size": 380, "opacity": 1},
           "encoding": {
             "y": {"field": "value", "type": "quantitative", "axis": {"orient": "right", "values": [0.74, 7.49, 14.2, 20.98, 27.7], "labels": false, "grid": false, "tickSize": -6, "title": null}},
             "shape": {"field": "period", "type": "nominal", "scale": {"domain": ["II -V","VII - VIII","IX - X","XI - XII","I"], "range": ["circle","square","diamond","triangle-up","circle"]},
                       "legend": {"title": "Периоды годового цикла:\u00a0\u00a0\u00a0\u00a0\u00a0\u00a0", "orient": "none", "legendX": 73, "legendY": -74, "direction": "horizontal", "columns": 5, "titleAnchor": "middle", "titlePadding": 0, "columnPadding": 20, "labelOffset": 18}},
             "fill": {"field": "period", "type": "nominal", "scale": {"domain": ["II -V","VII - VIII","IX - X","XI - XII","I"], "range": ["black","white","white","black","white"]},
                       "legend": {"title": "Периоды годового цикла:\u00a0\u00a0\u00a0\u00a0\u00a0\u00a0", "orient": "none", "legendX": 73, "legendY": -74, "direction": "horizontal", "columns": 5, "titleAnchor": "middle", "titlePadding": 0, "columnPadding": 20, "labelOffset": 18}},
             "stroke": {"field": "period", "type": "nominal", "scale": {"domain": ["II -V","VII - VIII","IX - X","XI - XII","I"], "range": ["black","black","black","black","black"]},
                       "legend": {"title": "Периоды годового цикла:\u00a0\u00a0\u00a0\u00a0\u00a0\u00a0", "orient": "none", "legendX": 73, "legendY": -74, "direction": "horizontal", "columns": 5, "titleAnchor": "middle", "titlePadding": 0, "columnPadding": 20, "labelOffset": 18}},
             "strokeWidth": {"field": "period", "type": "nominal", "scale": {"type": "ordinal", "domain": ["II -V","VII - VIII","IX - X","XI - XII","I"], "range": [0.5, 2.8, 1.5, 0.5, 2.5]},
                       "legend": {"title": "Периоды годового цикла:\u00a0\u00a0\u00a0\u00a0\u00a0\u00a0", "orient": "none", "legendX": 73, "legendY": -74, "direction": "horizontal", "columns": 5, "titleAnchor": "middle", "titlePadding": 0, "columnPadding": 20, "labelOffset": 18}}
           }}
        ]
      }
    ]
  }
],
"spacing": 38,
"center": true,
"resolve": {"scale": {"shape": "independent", "fill": "independent", "stroke": "independent", "strokeWidth": "independent"}}
}
